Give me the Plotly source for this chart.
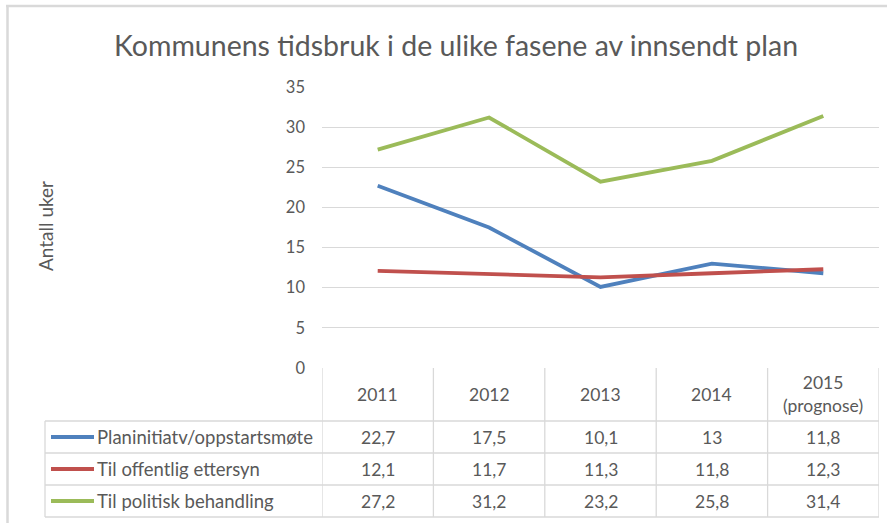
import plotly.graph_objects as go

title = "Kommunens tidsbruk i de ulike fasene av innsendt plan"
categories = ["2011", "2012", "2013", "2014", "2015<br>(prognose)"]
series_names = ["Planinitiatv/oppstartsmøte", "Til offentlig ettersyn", "Til politisk behandling"]
planinitiativ = [22.7, 17.5, 10.1, 13, 11.8]
offentlig = [12.1, 11.7, 11.3, 11.8, 12.3]
politisk = [27.2, 31.2, 23.2, 25.8, 31.4]
colors = ["#4F81BD", "#C0504D", "#9BBB59"]
y_ticks = [0, 5, 10, 15, 20, 25, 30, 35]
y_title = "Antall uker"

W, H = 887, 523
L, R, T, B = 322, 879, 87, 368
FONT = "Lato"
GREY = "#595959"
LINE = "#D9D9D9"

def py(y):  # pixel y -> paper
    return (B - y) / (B - T)

def px(x):
    return (x - L) / (R - L)

series = [planinitiativ, offentlig, politisk]
xs = list(range(len(categories)))

fig = go.Figure()
for name, vals, c in zip(series_names, series, colors):
    fig.add_trace(go.Scatter(x=xs, y=vals, mode="lines", name=name,
                             line=dict(color=c, width=3.8), showlegend=False))

shapes = []
annotations = []
# outer chart border (left and top)
shapes.append(dict(type="line", xref="paper", yref="paper", x0=px(7.5), x1=px(7.5), y0=py(5), y1=py(530),
                   line=dict(color=LINE, width=2.5)))
shapes.append(dict(type="line", xref="paper", yref="paper", x0=px(6), x1=px(900), y0=py(6), y1=py(6),
                   line=dict(color=LINE, width=2.5)))

# data table
row_lines = [421, 453, 485, 517]
for yl in row_lines:
    shapes.append(dict(type="line", xref="paper", yref="paper", x0=px(45), x1=1, y0=py(yl), y1=py(yl),
                       line=dict(color=LINE, width=1.3)))
shapes.append(dict(type="line", xref="paper", yref="paper", x0=px(45), x1=px(45), y0=py(421), y1=py(517),
                   line=dict(color=LINE, width=1.3)))
for i in range(len(categories) + 1):
    shapes.append(dict(type="line", xref="x", yref="paper", x0=i - 0.5, x1=i - 0.5, y0=py(368), y1=py(517),
                       line=dict(color=LINE, width=1.3)))

TS = 17.5
for i, cat in enumerate(categories):
    annotations.append(dict(x=i, y=py(394), xref="x", yref="paper", text=cat, showarrow=False,
                            xanchor="center", font=dict(family=FONT, size=TS, color=GREY), yanchor="middle"))
row_centers = [437, 469, 501]
for r, (name, vals, c) in enumerate(zip(series_names, series, colors)):
    yc = row_centers[r]
    shapes.append(dict(type="line", xref="paper", yref="paper", x0=px(51), x1=px(94), y0=py(yc), y1=py(yc),
                       line=dict(color=c, width=3.8)))
    annotations.append(dict(x=px(95), y=py(yc), xref="paper", yref="paper", text=name, showarrow=False,
                            xanchor="left", yanchor="middle", font=dict(family=FONT, size=18.5, color=GREY)))
    for i, v in enumerate(vals):
        annotations.append(dict(x=i, y=py(yc), xref="x", yref="paper", text=f"{v:g}".replace(".", ","),
                                showarrow=False, xanchor="center", yanchor="middle",
                                font=dict(family=FONT, size=TS, color=GREY)))

annotations.append(dict(x=px(45), y=py(226), xref="paper", yref="paper", text=y_title, textangle=-90,
                        xanchor="center", yanchor="middle",
                        showarrow=False, font=dict(family=FONT, size=19, color=GREY)))
annotations.append(dict(x=px(456), y=py(45), xref="paper", yref="paper", text=title, showarrow=False,
                        xanchor="center", yanchor="middle", font=dict(family=FONT, size=28.5, color=GREY)))

fig.update_layout(
    width=W, height=H,
    margin=dict(l=L, r=W - R, t=T, b=H - B),
    paper_bgcolor="white", plot_bgcolor="white",
    shapes=shapes, annotations=annotations,
    xaxis=dict(range=[-0.5, len(categories) - 0.5], showticklabels=False, showgrid=False,
               zeroline=False, showline=False, fixedrange=True),
    yaxis=dict(range=[0, 35], tickvals=y_ticks, showgrid=True, gridcolor=LINE, gridwidth=1.3,
               zeroline=False, showline=False, ticklabelstandoff=16,
               tickfont=dict(family=FONT, size=16.5, color=GREY)),
)
fig.write_html("out.html", config={"displayModeBar": False},
               post_script="document.body.style.margin='0';document.body.style.overflow='hidden';")
